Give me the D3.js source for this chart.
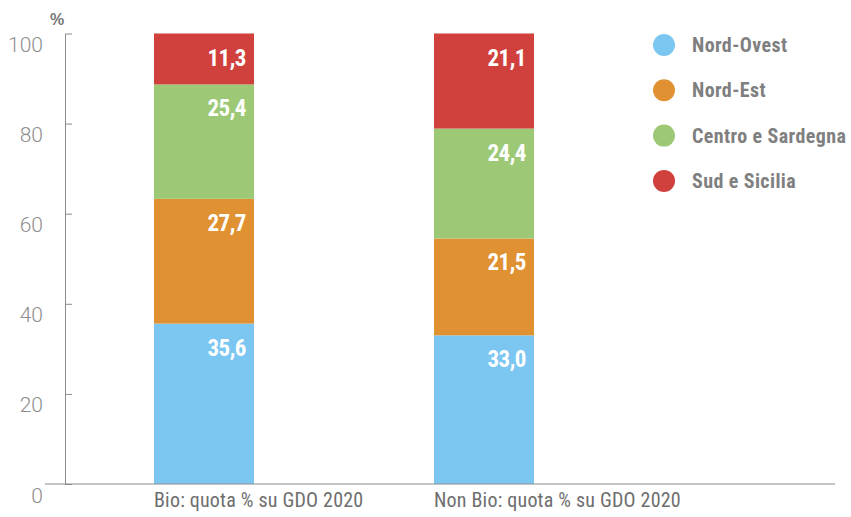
<!DOCTYPE html>
<html>
<head>
<meta charset="utf-8">
<script src="https://cdn.jsdelivr.net/npm/d3@7"></script>
<style>
  html, body { margin: 0; padding: 0; background: #fff; }
  svg { display: block; }
</style>
</head>
<body>
<svg id="chart" width="851" height="517"></svg>
<script>
// Regional share of large retail (GDO) sales, organic vs non-organic, 2020
const categories = ["Bio: quota % su GDO 2020", "Non Bio: quota % su GDO 2020"];
const regions = ["Nord-Ovest", "Nord-Est", "Centro e Sardegna", "Sud e Sicilia"];
const nordOvest = [35.6, 33.0];
const nordEst = [27.7, 21.5];
const centroSardegna = [25.4, 24.4];
const sudSicilia = [11.3, 21.1];
const colors = ["#7cc6f2", "#e09132", "#9dc977", "#d0413e"];
const yTicks = [0, 20, 40, 60, 80, 100];

const seriesValues = [nordOvest, nordEst, centroSardegna, sudSicilia];
const rows = categories.map((c, i) => {
  const r = { category: c };
  regions.forEach((reg, k) => { r[reg] = seriesValues[k][i]; });
  return r;
});

const svg = d3.select("#chart");
const axisColor = "#8c8c8c";
const narrow = "'Liberation Sans Narrow', 'Roboto Condensed', Roboto, sans-serif";
const light = "Roboto, 'Liberation Sans', sans-serif";

const y = d3.scaleLinear().domain([0, 100]).range([484, 33.5]);
const x = d3.scaleBand().domain(categories).range([14, 674]).paddingInner(0.642857).paddingOuter(0.5);

const stack = d3.stack().keys(regions)(rows);
const color = d3.scaleOrdinal().domain(regions).range(colors);

// stacked bars
const layers = svg.append("g").selectAll("g").data(stack).join("g")
  .attr("fill", d => color(d.key));
layers.selectAll("rect").data(d => d).join("rect")
  .attr("x", d => x(d.data.category))
  .attr("width", x.bandwidth())
  .attr("y", d => y(d[1]))
  .attr("height", d => y(d[0]) - y(d[1]));

// value labels, right-aligned near the top of each segment
const fmt = v => d3.format(".1f")(v).replace(".", ",");
layers.selectAll("text").data(d => d.map(p => ({ p, key: d.key }))).join("text")
  .attr("x", d => x(d.p.data.category) + x.bandwidth() - 8)
  .attr("y", d => y(d.p[1]) + 32)
  .attr("text-anchor", "end")
  .attr("fill", "#fff")
  .attr("font-family", narrow)
  .attr("font-weight", "bold")
  .attr("font-size", 23)
  .attr("letter-spacing", -0.5)
  .text(d => fmt(d.p.data[d.key]));

// y axis
const yAxis = svg.append("g").attr("transform", "translate(65,0)")
  .call(d3.axisLeft(y).tickValues(yTicks).tickSize(20).tickSizeOuter(0).tickPadding(2));
yAxis.select(".domain").attr("stroke", axisColor);
yAxis.selectAll(".tick line").attr("stroke", axisColor).attr("x2", 7);
yAxis.selectAll(".tick text")
  .attr("dy", 18)
  .attr("fill", "#8e8e8e")
  .attr("font-family", light)
  .attr("font-weight", 300)
  .attr("font-size", 21);

// baseline
svg.append("line")
  .attr("x1", 45).attr("x2", 835)
  .attr("y1", y(0)).attr("y2", y(0))
  .attr("stroke", axisColor);

// unit label
svg.append("text")
  .attr("x", 57).attr("y", 25)
  .attr("text-anchor", "middle")
  .attr("fill", "#777")
  .attr("font-family", "'Liberation Sans', sans-serif")
  .attr("font-weight", "bold")
  .attr("font-size", 16)
  .text("%");

// category labels, aligned to bar left edges
svg.append("g").selectAll("text").data(categories).join("text")
  .attr("x", d => x(d))
  .attr("y", 507)
  .attr("fill", "#6e6e6e")
  .attr("font-family", narrow)
  .attr("font-size", 20)
  .attr("letter-spacing", 0.2)
  .text(d => d);

// legend
const legend = svg.append("g").selectAll("g").data(regions).join("g")
  .attr("transform", (d, i) => `translate(664,${45 + i * 45.3})`);
legend.append("circle").attr("r", 11).attr("fill", d => color(d));
legend.append("text")
  .attr("x", 28).attr("y", 7)
  .attr("fill", "#7f7f7f")
  .attr("font-family", narrow)
  .attr("font-weight", "bold")
  .attr("font-size", 20)
  .attr("letter-spacing", 0.4)
  .text(d => d);
</script>
</body>
</html>
